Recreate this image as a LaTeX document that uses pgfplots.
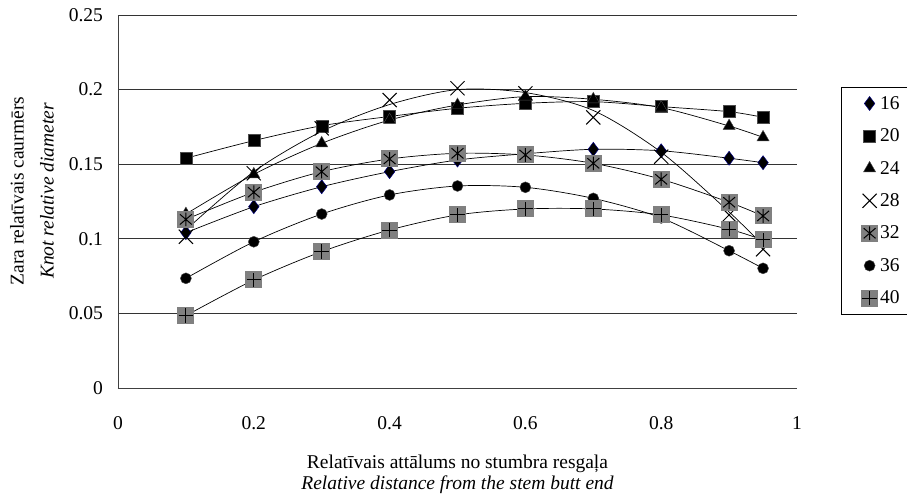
\documentclass[border=0pt]{standalone}
\usepackage{pgfplots}
\pgfplotsset{compat=1.18}
\usepackage{fontspec}
\setmainfont{Liberation Serif}
\definecolor{mgray}{HTML}{808080}
\definecolor{navy}{HTML}{000080}
\pgfdeclareplotmark{sqast}{%
  \pgfsetfillcolor{mgray}%
  \pgfpathrectangle{\pgfqpoint{-\pgfplotmarksize}{-\pgfplotmarksize}}{\pgfqpoint{2\pgfplotmarksize}{2\pgfplotmarksize}}%
  \pgfusepathqfill
  \pgfsetstrokecolor{black}%
  \pgfpathmoveto{\pgfqpoint{0pt}{-0.8\pgfplotmarksize}}%
  \pgfpathlineto{\pgfqpoint{0pt}{0.8\pgfplotmarksize}}%
  \pgfpathmoveto{\pgfqpoint{-0.7\pgfplotmarksize}{-0.6\pgfplotmarksize}}%
  \pgfpathlineto{\pgfqpoint{0.7\pgfplotmarksize}{0.6\pgfplotmarksize}}%
  \pgfpathmoveto{\pgfqpoint{-0.7\pgfplotmarksize}{0.6\pgfplotmarksize}}%
  \pgfpathlineto{\pgfqpoint{0.7\pgfplotmarksize}{-0.6\pgfplotmarksize}}%
  \pgfusepathqstroke
}
\pgfdeclareplotmark{sqplus}{%
  \pgfsetfillcolor{mgray}%
  \pgfpathrectangle{\pgfqpoint{-\pgfplotmarksize}{-\pgfplotmarksize}}{\pgfqpoint{2\pgfplotmarksize}{2\pgfplotmarksize}}%
  \pgfusepathqfill
  \pgfsetstrokecolor{black}%
  \pgfpathmoveto{\pgfqpoint{0pt}{-0.85\pgfplotmarksize}}%
  \pgfpathlineto{\pgfqpoint{0pt}{0.85\pgfplotmarksize}}%
  \pgfpathmoveto{\pgfqpoint{-0.85\pgfplotmarksize}{0pt}}%
  \pgfpathlineto{\pgfqpoint{0.85\pgfplotmarksize}{0pt}}%
  \pgfusepathqstroke
}
\newcommand{\fnt}{\fontsize{19.5}{22}\selectfont}
\begin{document}
\begin{tikzpicture}
\path[use as bounding box] (-118pt,-111pt) rectangle (789pt,388pt);
\begin{axis}[
  at={(0pt,0pt)}, anchor=south west,
  scale only axis, width=679pt, height=373pt,
  xmin=0, xmax=1, ymin=0, ymax=0.25,
  axis lines=left, axis line style={black!75, line width=0.9pt, -},
  xtick={0,0.2,0.4,0.6,0.8,1}, xticklabels={0,0.2,0.4,0.6,0.8,1},
  ytick={0,0.05,0.1,0.15,0.2,0.25}, yticklabels={0,0.05,0.1,0.15,0.2,0.25},
  major tick length=0pt,
  ymajorgrids, grid style={black!80, line width=0.8pt},
  tick label style={font=\fnt},
  yticklabel style={xshift=-11.5pt},
  xticklabel style={yshift=-25pt},
  clip=false,
  legend style={at={(1.0648,0.807)}, anchor=north west, draw=black, line width=0.6pt,
    font=\fnt, row sep=14pt, inner xsep=6pt, inner ysep=7pt,
    nodes={inner sep=2pt}, text width=60pt},
  legend image code/.code={\path (0pt,0pt); \draw[#1] plot coordinates {(22pt,0pt)};},
  legend cell align=left,
]
% 16
\addplot[black, line width=0.7pt, smooth, forget plot] coordinates {(0.1,0.1041)(0.2,0.1215)(0.3,0.1349)(0.4,0.145)(0.5,0.1528)(0.6,0.157)(0.7,0.16)(0.8,0.159)(0.9,0.154)(0.95,0.151)};
\addplot[only marks, mark=diamond*, mark size=7pt, mark options={fill=black, draw=navy, line width=0.5pt}] coordinates {(0.1,0.1041)(0.2,0.1215)(0.3,0.1349)(0.4,0.145)(0.5,0.1528)(0.6,0.157)(0.7,0.16)(0.8,0.159)(0.9,0.154)(0.95,0.151)};
\addlegendentry{16}
% 20
\addplot[black, line width=0.7pt, smooth, forget plot] coordinates {(0.1,0.154)(0.2,0.1658)(0.3,0.1758)(0.4,0.182)(0.5,0.1875)(0.6,0.1908)(0.7,0.1919)(0.8,0.1886)(0.9,0.1852)(0.95,0.1814)};
\addplot[only marks, mark=square*, mark size=6pt, mark options={fill=black, draw=black!70, line width=0.4pt}] coordinates {(0.1,0.154)(0.2,0.1658)(0.3,0.1758)(0.4,0.182)(0.5,0.1875)(0.6,0.1908)(0.7,0.1919)(0.8,0.1886)(0.9,0.1852)(0.95,0.1814)};
\addlegendentry{20}
% 24
\addplot[black, line width=0.7pt, smooth, forget plot] coordinates {(0.1,0.1166)(0.2,0.1432)(0.3,0.164)(0.4,0.1796)(0.5,0.1897)(0.6,0.1953)(0.7,0.1935)(0.8,0.1879)(0.9,0.1756)(0.95,0.168)};
\addplot[only marks, mark=triangle*, mark size=7pt, mark options={fill=black, draw=black!70, line width=0.4pt}] coordinates {(0.1,0.1166)(0.2,0.1432)(0.3,0.164)(0.4,0.1796)(0.5,0.1897)(0.6,0.1953)(0.7,0.1935)(0.8,0.1879)(0.9,0.1756)(0.95,0.168)};
\addlegendentry{24}
% 28
\addplot[black, line width=0.7pt, smooth, forget plot] coordinates {(0.1,0.106)(0.2,0.145)(0.3,0.172)(0.4,0.19)(0.5,0.2)(0.6,0.198)(0.7,0.186)(0.8,0.158)(0.9,0.118)(0.95,0.0955)};
\addplot[only marks, mark=x, mark size=10pt, mark options={draw=black, line width=1pt}] coordinates {(0.1,0.1014)(0.2,0.1439)(0.3,0.174)(0.4,0.193)(0.5,0.2009)(0.6,0.1975)(0.7,0.1814)(0.8,0.155)(0.9,0.116)(0.95,0.093)};
\addlegendentry{28}
% 32
\addplot[black, line width=0.7pt, smooth, forget plot] coordinates {(0.1,0.113)(0.2,0.1312)(0.3,0.145)(0.4,0.1535)(0.5,0.1573)(0.6,0.1562)(0.7,0.1506)(0.8,0.1399)(0.9,0.1245)(0.95,0.1153)};
\addplot[only marks, mark=sqast, mark size=8.5pt, mark options={line width=1pt}] coordinates {(0.1,0.113)(0.2,0.1312)(0.3,0.145)(0.4,0.1535)(0.5,0.1573)(0.6,0.1562)(0.7,0.1506)(0.8,0.1399)(0.9,0.1245)(0.95,0.1153)};
\addlegendentry{32}
% 36
\addplot[black, line width=0.7pt, smooth, forget plot] coordinates {(0.1,0.0735)(0.2,0.098)(0.3,0.1166)(0.4,0.1294)(0.5,0.1354)(0.6,0.1345)(0.7,0.1271)(0.8,0.114)(0.9,0.092)(0.95,0.0802)};
\addplot[only marks, mark=*, mark size=5.5pt, mark options={fill=black, draw=black!70, line width=0.4pt}] coordinates {(0.1,0.0735)(0.2,0.098)(0.3,0.1166)(0.4,0.1294)(0.5,0.1354)(0.6,0.1345)(0.7,0.1271)(0.8,0.114)(0.9,0.092)(0.95,0.0802)};
\addlegendentry{36}
% 40
\addplot[black, line width=0.7pt, smooth, forget plot] coordinates {(0.1,0.0485)(0.2,0.0724)(0.3,0.0914)(0.4,0.1059)(0.5,0.116)(0.6,0.12)(0.7,0.12)(0.8,0.116)(0.9,0.1064)(0.95,0.0992)};
\addplot[only marks, mark=sqplus, mark size=8.5pt, mark options={line width=1pt}] coordinates {(0.1,0.0485)(0.2,0.0724)(0.3,0.0914)(0.4,0.1059)(0.5,0.116)(0.6,0.12)(0.7,0.12)(0.8,0.116)(0.9,0.1064)(0.95,0.0992)};
\addlegendentry{40}
% labels
\node[rotate=90, font=\fnt] at ([xshift=-101pt]rel axis cs:0,0.528) {Zara relatīvais caurmērs};
\node[rotate=90, font=\fnt\itshape] at ([xshift=-71pt]rel axis cs:0,0.528) {Knot relative diameter};
\node[font=\fnt] at ([yshift=-76pt]rel axis cs:0.5,0) {Relatīvais attālums no stumbra resgaļa};
\node[font=\fnt\itshape] at ([yshift=-97pt]rel axis cs:0.5,0) {Relative distance from the stem butt end};
\end{axis}
\end{tikzpicture}
\end{document}
